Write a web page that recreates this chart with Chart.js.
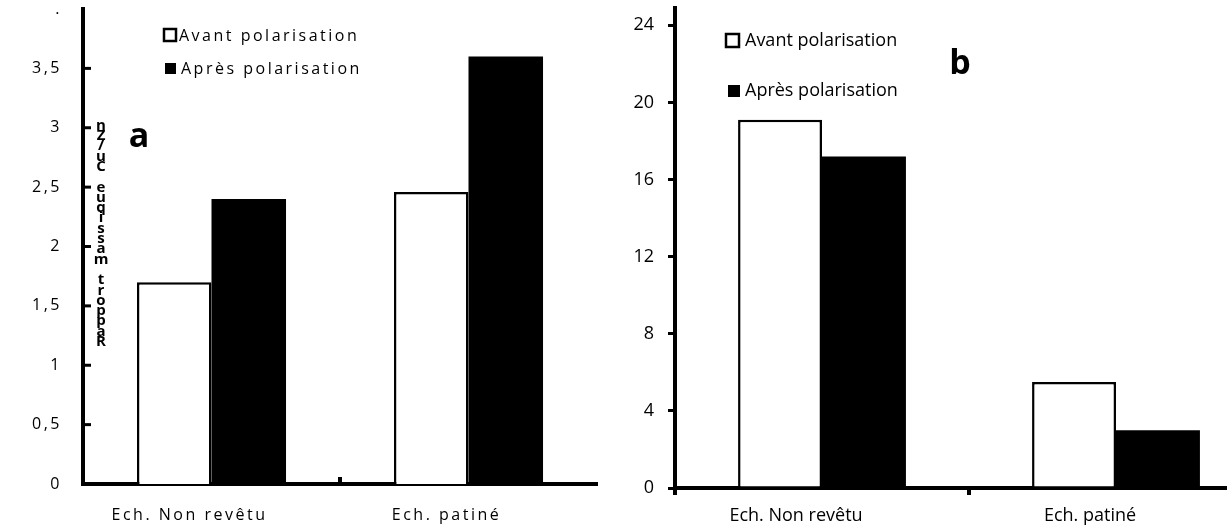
<!DOCTYPE html>
<html><head><meta charset="utf-8">
<script src="https://cdn.jsdelivr.net/npm/chart.js@4.4.0/dist/chart.umd.min.js"></script>
<style>
html,body{margin:0;padding:0;background:#fff;width:1227px;height:528px;overflow:hidden}
#wa{position:absolute;left:0;top:0;width:620px;height:528px;overflow:hidden}
#wb{position:absolute;left:600px;top:0;width:627px;height:528px;overflow:hidden}
canvas{display:block}
</style></head><body>
<div id="wa"><canvas id="ca" width="620" height="528"></canvas></div>
<div id="wb"><canvas id="cb" width="670" height="528"></canvas></div>
<script>
const categories = ['Ech. Non revêtu', 'Ech. patiné'];
const seriesNames = ['Avant polarisation', 'Après polarisation'];
const avantA = [1.7, 2.46];
const apresA = [2.4, 3.6];
const avantB = [19.1, 5.5];
const apresB = [17.2, 3.0];
const yTicksA = [0, 0.5, 1, 1.5, 2, 2.5, 3, 3.5, 4];
const yTicksB = [0, 4, 8, 12, 16, 20, 24];
const titleA = 'Rapport massique Cu/Zn';
const titleB = 'Rapport massique Cu/Pb';
const panelA = 'a';
const panelB = 'b';

const FONT = 'Open Sans';

function decorPlugin(cfg) {
  return {
    id: 'decor',
    beforeDraw(chart) {
      chart.ctx.letterSpacing = cfg.spacing;
    },
    afterDraw(chart) {
      const ctx = chart.ctx;
      const xs = chart.scales.x, ys = chart.scales.y;
      ctx.save();
      ctx.letterSpacing = cfg.spacing;
      if (cfg.innerTicks) {
        ctx.strokeStyle = '#000';
        ctx.lineWidth = 3;
        ys.ticks.forEach(t => {
          if (t.value === 0 || t.value === ys.max) return;
          const y = ys.getPixelForValue(t.value);
          ctx.beginPath(); ctx.moveTo(xs.left, y); ctx.lineTo(xs.left + 8, y); ctx.stroke();
        });
        const xb = (xs.getPixelForValue(0) + xs.getPixelForValue(1)) / 2;
        ctx.lineWidth = 4;
        ctx.beginPath(); ctx.moveTo(xb, ys.bottom); ctx.lineTo(xb, ys.bottom - 7); ctx.stroke();
      }
      ctx.font = cfg.legendFont;
      ctx.textBaseline = 'middle';
      ctx.textAlign = 'left';
      const L = cfg.legend;
      ctx.fillStyle = '#fff';
      ctx.fillRect(L.b1[0], L.b1[1], L.b1[2], L.b1[2]);
      ctx.strokeStyle = '#000'; ctx.lineWidth = 2.5;
      ctx.strokeRect(L.b1[0], L.b1[1], L.b1[2], L.b1[2]);
      ctx.fillStyle = '#000';
      ctx.fillRect(L.b2[0], L.b2[1], L.b2[2], L.b2[2]);
      ctx.fillText(chart.data.datasets[0].label, L.t1[0], L.t1[1]);
      ctx.fillText(chart.data.datasets[1].label, L.t2[0], L.t2[1]);
      ctx.letterSpacing = '0px';
      ctx.font = 'bold 34px ' + FONT;
      ctx.textAlign = 'center';
      ctx.fillText(cfg.panel, cfg.panelPos[0], cfg.panelPos[1]);
      ctx.font = 'bold 15px ' + FONT;
      ctx.textBaseline = 'alphabetic';
      Array.from(cfg.title).forEach((ch, i) => {
        ctx.fillText(ch, cfg.titleX, cfg.titleBottom - i * cfg.titleStep);
      });
      ctx.restore();
    }
  };
}

const fmt = v => String(v).replace('.', ',');
function noPad(s) { s.paddingTop = 0; s.paddingBottom = 0; s.paddingLeft = 0; s.paddingRight = 0; }

new Chart(document.getElementById('ca'), {
  type: 'bar',
  data: {
    labels: categories,
    datasets: [
      { label: seriesNames[0], data: avantA, backgroundColor: '#fff', borderColor: '#000', borderWidth: 2.5, categoryPercentage: 0.58, barPercentage: 1 },
      { label: seriesNames[1], data: apresA, backgroundColor: '#000', borderColor: '#000', borderWidth: 0, categoryPercentage: 0.58, barPercentage: 1 }
    ]
  },
  options: {
    responsive: false, animation: false, devicePixelRatio: 1,
    layout: { autoPadding: false, padding: { top: 9, right: 23, left: 0, bottom: 0 } },
    plugins: { legend: { display: false }, tooltip: { enabled: false } },
    scales: {
      x: {
        grid: { display: false },
        border: { display: true, color: '#000', width: 4 },
        ticks: { color: '#000', font: { family: FONT, size: 16 }, padding: 14, labelOffset: -22, maxRotation: 0, autoSkip: false },
        afterFit(s) { s.height = 44; noPad(s); }
      },
      y: {
        min: 0, max: 4,
        afterBuildTicks(s) { s.ticks = yTicksA.map(v => ({ value: v })); },
        grid: { display: false },
        border: { display: true, color: '#000', width: 4 },
        ticks: { color: '#000', font: { family: FONT, size: 16 }, padding: 13, callback: v => v === 4 ? '.' : fmt(v) },
        afterFit(s) { s.width = 83; noPad(s); }
      }
    }
  },
  plugins: [decorPlugin({
    spacing: '2.5px', innerTicks: true,
    legendFont: '16px ' + FONT,
    legend: { b1: [164, 29, 12], b2: [165, 63, 11], t1: [179, 36], t2: [181, 69] },
    panel: panelA, panelPos: [139, 137],
    title: titleA, titleX: 101, titleBottom: 346, titleStep: 10.3
  })]
});

new Chart(document.getElementById('cb'), {
  type: 'bar',
  data: {
    labels: categories,
    datasets: [
      { label: seriesNames[0], data: avantB, backgroundColor: '#fff', borderColor: '#000', borderWidth: 2.5, categoryPercentage: 0.571, barPercentage: 1 },
      { label: seriesNames[1], data: apresB, backgroundColor: '#000', borderColor: '#000', borderWidth: 0, categoryPercentage: 0.571, barPercentage: 1 }
    ]
  },
  options: {
    responsive: false, animation: false, devicePixelRatio: 1,
    layout: { autoPadding: false, padding: { top: 8, right: 7, left: 0, bottom: 0 } },
    plugins: { legend: { display: false }, tooltip: { enabled: false } },
    scales: {
      x: {
        grid: { display: true, drawOnChartArea: false, drawTicks: true, tickLength: 7, color: '#000', lineWidth: 4 },
        border: { display: true, color: '#000', width: 4 },
        ticks: { color: '#000', font: { family: FONT, size: 18 }, padding: 10, labelOffset: -26, maxRotation: 0, autoSkip: false },
        afterFit(s) { s.height = 40; noPad(s); }
      },
      y: {
        min: 0, max: 24.9,
        afterBuildTicks(s) { s.ticks = yTicksB.map(v => ({ value: v })); },
        grid: { display: true, drawOnChartArea: false, drawTicks: true, tickLength: 7, color: '#000', lineWidth: 3 },
        border: { display: true, color: '#000', width: 4 },
        ticks: { color: '#000', font: { family: FONT, size: 18 }, padding: 14, callback: v => fmt(v) },
        afterFit(s) { s.width = 75; noPad(s); }
      }
    }
  },
  plugins: [decorPlugin({
    spacing: '0px', innerTicks: false,
    legendFont: '18px ' + FONT,
    legend: { b1: [126, 34, 13], b2: [128, 85, 12], t1: [145, 41], t2: [145, 91] },
    panel: panelB, panelPos: [360, 64],
    title: titleB, titleX: 650, titleBottom: 346, titleStep: 9.4
  })]
});
</script>
</body></html>
